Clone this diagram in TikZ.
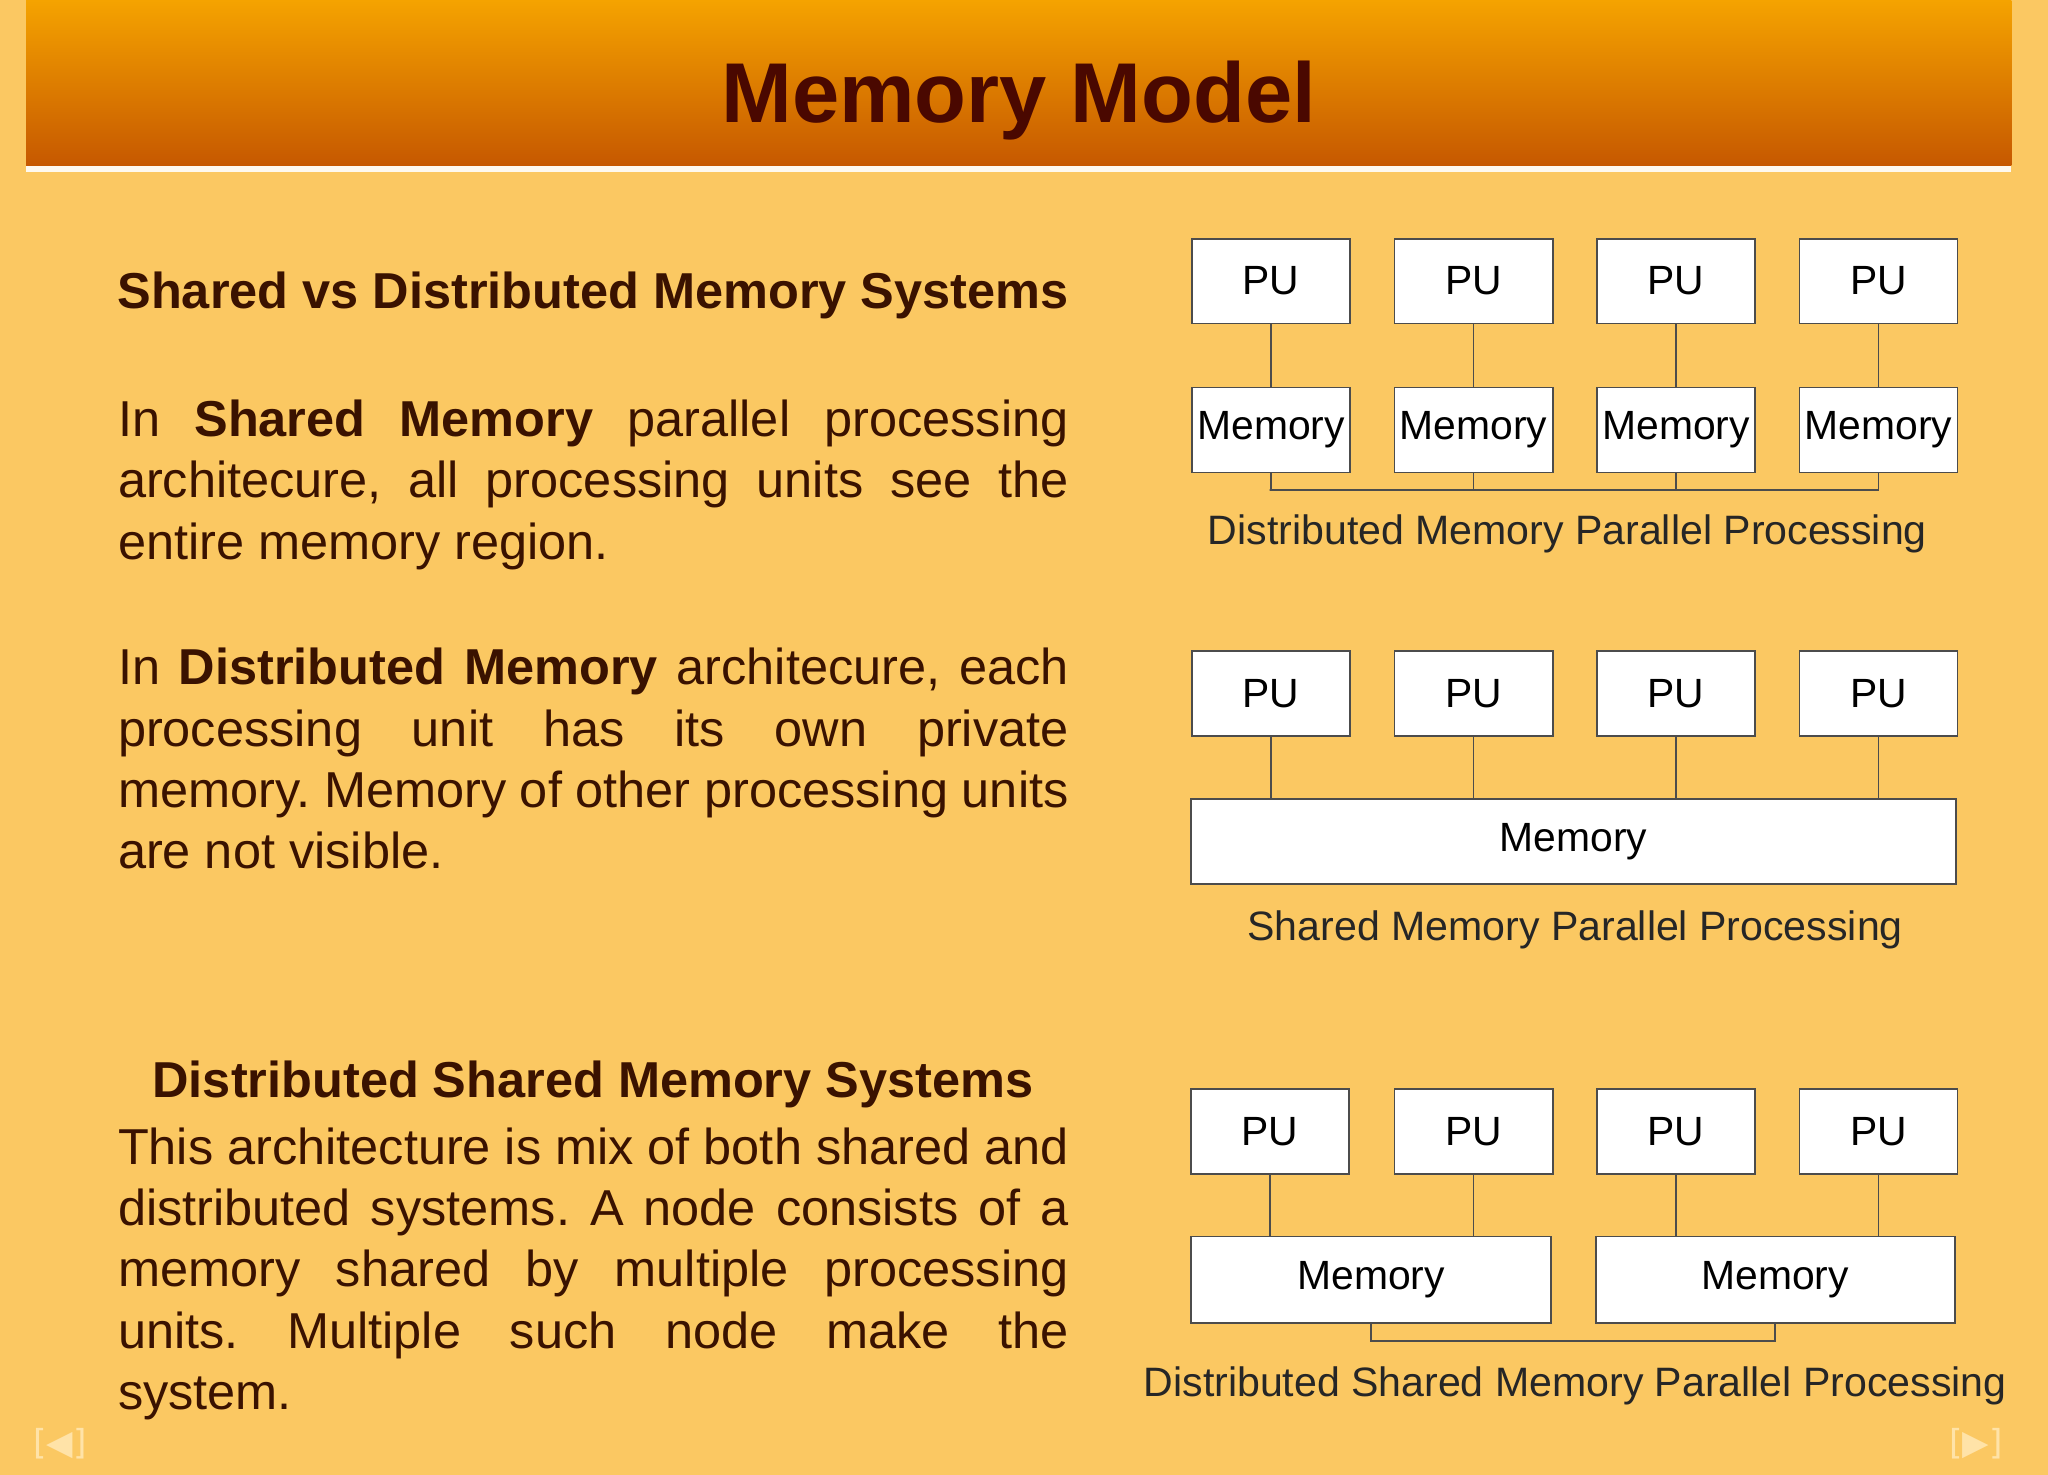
\documentclass[tikz,border=0pt]{standalone}
\usepackage{fontspec}
\setmainfont{Liberation Sans}
\newfontfamily\navfont{DejaVu Sans}
\hyphenpenalty=10000
\exhyphenpenalty=10000
\frenchspacing
\definecolor{bg}{HTML}{FBC862}
\definecolor{htop}{HTML}{F5A300}
\definecolor{hbot}{HTML}{C65800}
\definecolor{ttl}{HTML}{4A0800}
\definecolor{txt}{HTML}{3A1200}
\definecolor{nav}{HTML}{FFE3A8}
\tikzset{
 box/.style={draw=black!70,fill=white,line width=0.8pt,inner sep=0pt,anchor=north west,font=\fontsize{17.8pt}{20pt}\selectfont},
 captext/.style={font=\fontsize{17.9pt}{20pt}\selectfont,text=black!85},
 para/.style={anchor=north west,text width=14.56cm,align=justify,inner sep=0pt,text=txt,font=\fontsize{22pt}{26.7pt}\selectfont},
 head/.style={text=txt,font=\fontsize{22pt}{26pt}\selectfont\bfseries},
 wire/.style={draw=black!70,line width=0.8pt}
}
\begin{document}
\frenchspacing
\begin{tikzpicture}[x=0.02cm,y=-0.02cm]
\fill[bg] (0,0) rectangle (1568,1129);
\useasboundingbox (0,0) rectangle (1568,1129);
\shade[top color=htop,bottom color=hbot] (20,0) rectangle (1540,127);
\fill[white!90!bg] (20,127) rectangle (1540,132);
\node[text=ttl,font=\fontsize{37pt}{44pt}\selectfont\bfseries] (title) at (780,77) {Memory Model};

\node[head] (h1) at (454,226) {Shared vs Distributed Memory Systems};
\node[para] (p1) at (90,306) {In \textbf{Shared Memory} parallel processing\linebreak architecure, all processing units see the\linebreak entire memory region.};
\node[para] (p2) at (90,496) {In \textbf{Distributed Memory} architecure, each\linebreak processing unit has its own private\linebreak memory. Memory of other processing units\linebreak are not visible.};
\node[head] (h2) at (454,830) {Distributed Shared Memory Systems};
\node[para] (p3) at (90,863) {This architecture is mix of both shared and\linebreak distributed systems. A node consists of a\linebreak memory shared by multiple processing\linebreak units. Multiple such node make the\linebreak system.};

% diagram 1
\foreach \i/\x in {1/912,2/1067,3/1222,4/1377}{
 \node[box,minimum width=2.42cm,minimum height=1.3cm] (a\i) at (\x,182) {PU};
 \node[box,minimum width=2.42cm,minimum height=1.3cm] (m\i) at (\x,296) {Memory};
 \draw[wire] (a\i.south) -- (m\i.north);
}
\coordinate (bus1) at (972,375);
\draw[wire] (m1.south) |- (bus1) -| (m4.south);
\draw[wire] (m2.south) -- (m2.south |- bus1);
\draw[wire] (m3.south) -- (m3.south |- bus1);
\node[captext] (c1) at (1200,409) {Distributed Memory Parallel Processing};

% diagram 2
\foreach \i/\x in {1/912,2/1067,3/1222,4/1377}{
 \node[box,minimum width=2.42cm,minimum height=1.3cm] (b\i) at (\x,498) {PU};
}
\node[box,minimum width=11.72cm,minimum height=1.3cm] (sm) at (911,611) {Memory};
\foreach \i in {1,2,3,4}{\draw[wire] (b\i.south) -- (b\i.south |- sm.north);}
\node[captext] (c2) at (1206,712) {Shared Memory Parallel Processing};

% diagram 3
\foreach \i/\x in {1/911,2/1067,3/1222,4/1377}{
 \node[box,minimum width=2.42cm,minimum height=1.3cm] (d\i) at (\x,833) {PU};
}
\node[box,minimum width=5.52cm,minimum height=1.32cm] (dm1) at (911,946) {Memory};
\node[box,minimum width=5.5cm,minimum height=1.32cm] (dm2) at (1221,946) {Memory};
\draw[wire] (d1.south) -- (d1.south |- dm1.north);
\draw[wire] (d2.south) -- (d2.south |- dm1.north);
\draw[wire] (d3.south) -- (d3.south |- dm2.north);
\draw[wire] (d4.south) -- (d4.south |- dm2.north);
\coordinate (bus3) at (1055,1027);
\draw[wire] (dm1.south) |- (bus3) -| (dm2.south);
\node[captext] (c3) at (1206,1061) {Distributed Shared Memory Parallel Processing};

\node[text=nav,font=\navfont\fontsize{15pt}{18pt}\selectfont] (nl) at (46,1105) {[◀]};
\node[text=nav,font=\navfont\fontsize{15pt}{18pt}\selectfont] (nr) at (1513,1105) {[▶]};
\end{tikzpicture}
\end{document}
